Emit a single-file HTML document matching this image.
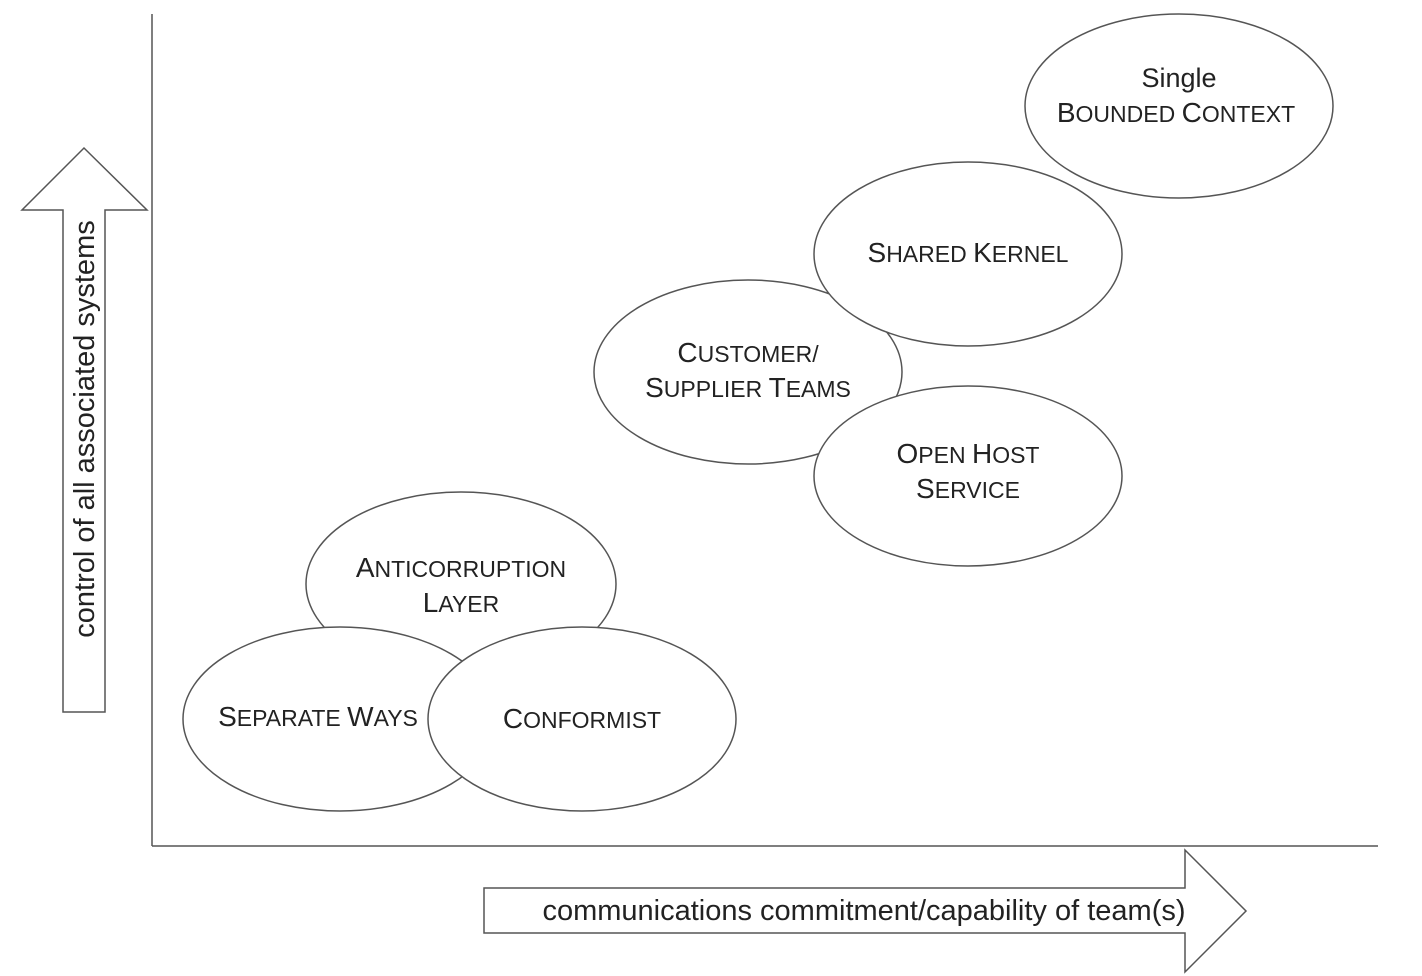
<!DOCTYPE html>
<html><head><style>
html,body{margin:0;padding:0;background:#fff;}
svg{display:block}
text{font-family:"Liberation Sans",sans-serif;fill:#222;}
.sc{font-size:23px;}
.c{font-size:28px;}
</style></head><body>
<svg width="1422" height="976" viewBox="0 0 1422 976">
<g stroke="#555" stroke-width="1.5" fill="#fff">
<line x1="152" y1="14" x2="152" y2="846"/>
<line x1="152" y1="846" x2="1378" y2="846"/>
<polygon points="63,712 63,210 22,210 84,148 147,210 105,210 105,712"/>
<polygon points="484,888 1185,888 1185,850 1246,911 1185,972 1185,933 484,933"/>
<ellipse cx="1179" cy="106" rx="154" ry="92"/>
<ellipse cx="748" cy="372" rx="154" ry="92"/>
<ellipse cx="968" cy="254" rx="154" ry="92"/>
<ellipse cx="968" cy="476" rx="154" ry="90"/>
<ellipse cx="461" cy="584" rx="155" ry="92"/>
<ellipse cx="340" cy="719" rx="157" ry="92"/>
<ellipse cx="582" cy="719" rx="154" ry="92"/>
</g>
<g text-anchor="middle">
<text x="1179" y="87" font-size="27">Single</text>
<text x="1176" y="122" class="sc"><tspan class="c">B</tspan>OUNDED <tspan class="c">C</tspan>ONTEXT</text>
<text x="968" y="262" class="sc"><tspan class="c">S</tspan>HARED <tspan class="c">K</tspan>ERNEL</text>
<text x="748" y="362" class="sc"><tspan class="c">C</tspan>USTOMER/</text>
<text x="748" y="397" class="sc"><tspan class="c">S</tspan>UPPLIER <tspan class="c">T</tspan>EAMS</text>
<text x="968" y="463" class="sc"><tspan class="c">O</tspan>PEN <tspan class="c">H</tspan>OST</text>
<text x="968" y="498" class="sc"><tspan class="c">S</tspan>ERVICE</text>
<text x="461" y="577" class="sc"><tspan class="c">A</tspan>NTICORRUPTION</text>
<text x="461" y="612" class="sc"><tspan class="c">L</tspan>AYER</text>
<text x="318" y="726" class="sc"><tspan class="c">S</tspan>EPARATE <tspan class="c">W</tspan>AYS</text>
<text x="582" y="728" class="sc"><tspan class="c">C</tspan>ONFORMIST</text>
<text x="864" y="920" font-size="29">communications commitment/capability of team(s)</text>
<text x="0" y="0" font-size="29" transform="translate(94,429) rotate(-90)">control of all associated systems</text>
</g>
</svg>
</body></html>
